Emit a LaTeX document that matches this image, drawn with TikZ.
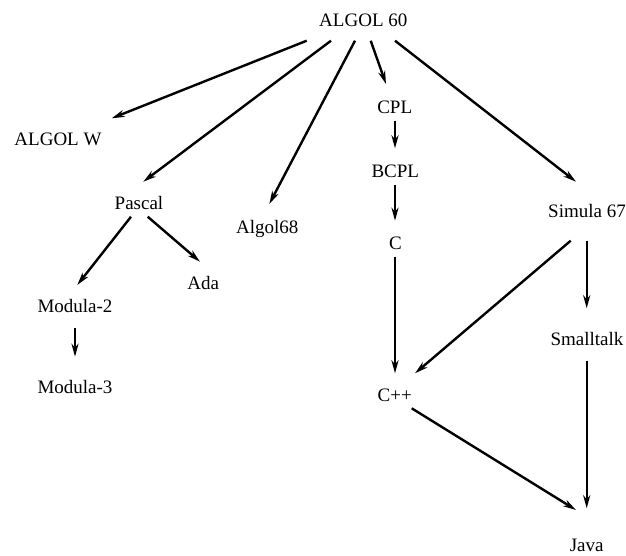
\documentclass[tikz,border=0pt]{standalone}
\usepackage{fontspec}
\setmainfont{Liberation Serif}
\usetikzlibrary{arrows.meta,calc}
\begin{document}
\begin{tikzpicture}[x=1pt,y=-1pt,
    every node/.style={anchor=base,inner sep=0pt,font=\fontsize{19}{22}\selectfont}]
      \useasboundingbox (0,0) rectangle (626,555);
      \draw
        (363.3,26) node (algol60){ALGOL 60}
        (58,145) node (algolw){ALGOL W}
        (139,209.3) node (pascal){Pascal}
        (267.2,233.3) node (algol68){Algol68}
        (394.7,113.3) node (cpl){CPL}
        (395.3,177.3) node (bcpl){BCPL}
        (395.5,249.3) node (c){C}
        (587,217) node (simula){Simula 67}
        (587,345.5) node (smalltalk){Smalltalk}
        (203.3,289.3) node (ada){Ada}
        (75,312.7) node (modula2){Modula-2}
        (75,393.3) node (modula3){Modula-3}
        (394.7,401.3) node (cpp){C++}
        (586.7,551.5) node (java){Java};
      \begin{scope}[-{Stealth[length=13pt,width=7pt,inset=4pt]},line width=2.4pt]
        \draw ($(algol60.base)+(-56.6,14.7)$) to ($(algolw.base)+(53.7,-26.7)$);
        \draw ($(algol60.base)+(-32.3,14.7)$) to ($(pascal.base)+(4.3,-27.6)$);
        \draw ($(algol60.base)+(-8.3,14.7)$) to ($(algol68.base)+(2.1,-29.3)$);
        \draw ($(algol60.base)+(7.4,14.7)$) to ($(cpl.base)+(-8.7,-29.3)$);
        \draw ($(algol60.base)+(31.7,14.7)$) to ($(simula.base)+(-11,-35.3)$);
        \draw ($(cpl.base)+(0.3,7.4)$) to ($(bcpl.base)+(-0.3,-29)$);
        \draw ($(bcpl.base)+(-0.3,7.7)$) to ($(c.base)+(-0.5,-28.6)$);
        \draw ($(c.base)+(-0.5,7.4)$) to ($(cpp.base)+(0.3,-28)$);
        \draw ($(simula.base)+(-16.3,23.7)$) to ($(cpp.base)+(20.3,-28)$);
        \draw ($(simula.base)+(-0.3,23.7)$) to ($(smalltalk.base)+(-0.3,-37.2)$);
        \draw ($(smalltalk.base)+(-0.3,15.2)$) to ($(java.base)+(0,-43.2)$);
        \draw ($(cpp.base)+(17,7)$) to ($(java.base)+(-10.7,-41.5)$);
        \draw ($(pascal.base)+(-8,7.4)$) to ($(modula2.base)+(2.3,-27.7)$);
        \draw ($(pascal.base)+(8.7,7.4)$) to ($(ada.base)+(-3.3,-27.6)$);
        \draw ($(modula2.base)+(0,15.6)$) to ($(modula3.base)+(0,-36.6)$);
      \end{scope}
    \end{tikzpicture}
\end{document}
